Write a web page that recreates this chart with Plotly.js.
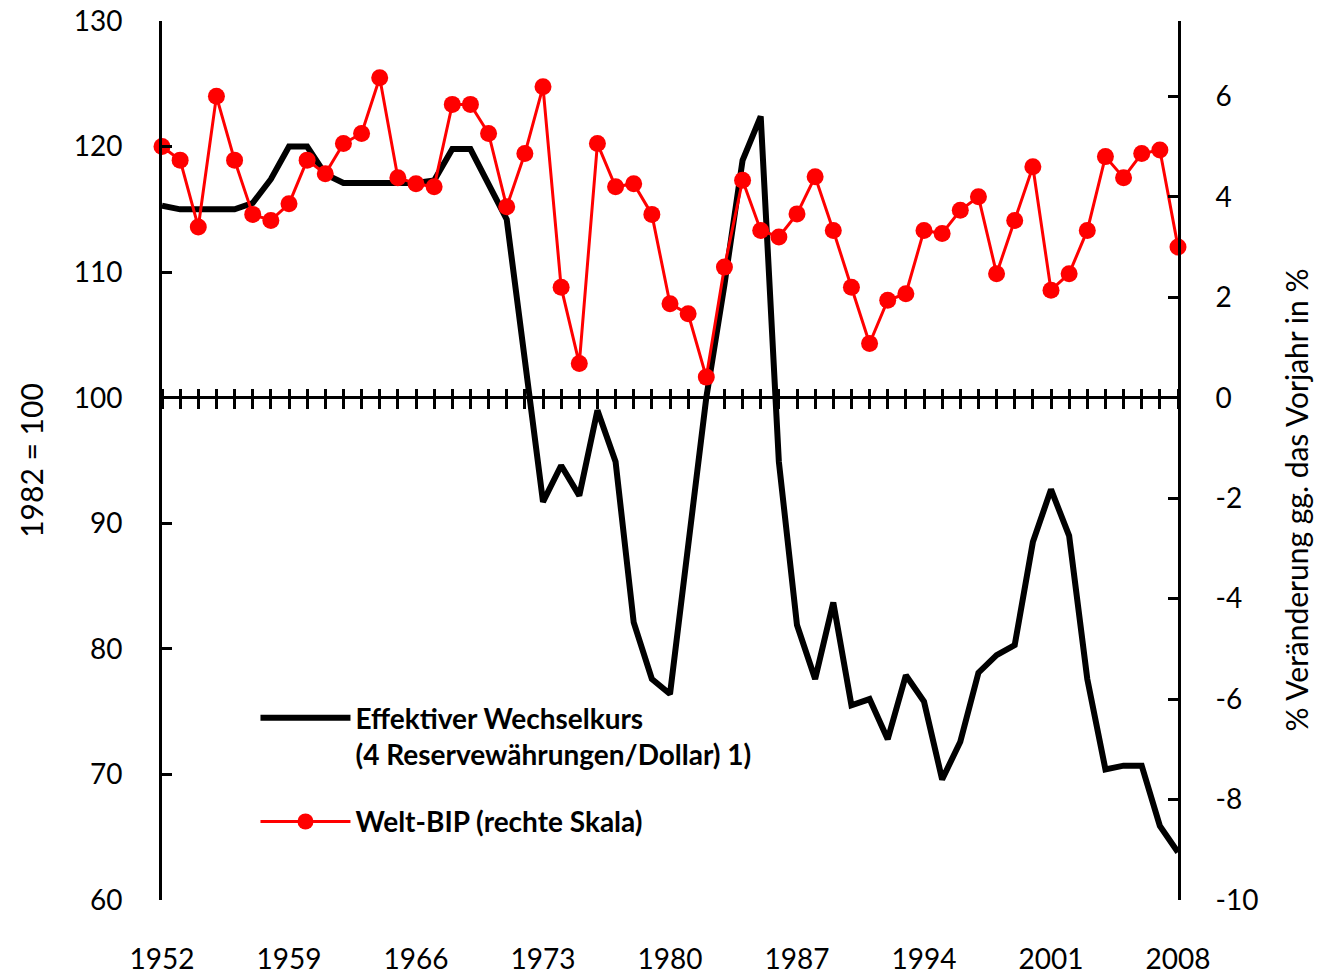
<!DOCTYPE html>
<html>
<head>
<meta charset="utf-8">
<script src="https://cdn.plot.ly/plotly-3.0.1.min.js"></script>
<style>html,body{margin:0;padding:0;background:#fff;}#chart{width:1320px;height:976px;}</style>
</head>
<body>
<div id="chart"></div>
<script>
// Years
const years = [1952,1953,1954,1955,1956,1957,1958,1959,1960,1961,1962,1963,1964,1965,1966,1967,1968,1969,1970,
  1971,1972,1973,1974,1975,1976,1977,1978,1979,1980,1981,1982,1983,1984,1985,1986,1987,1988,1989,1990,
  1991,1992,1993,1994,1995,1996,1997,1998,1999,2000,2001,2002,2003,2004,2005,2006,2007,2008];

// Effektiver Wechselkurs (1982 = 100), left scale
const wechselkurs = [115.3,115.0,115.0,115.0,115.0,115.5,117.4,120.0,120.0,117.8,117.1,117.1,117.1,117.1,117.1,117.3,119.8,119.8,117.1,
  114.2,103.0,91.7,94.6,92.2,99.0,94.9,82.1,77.6,76.4,88.4,100.0,109.0,118.9,122.4,94.9,81.9,77.6,83.7,75.5,
  76.0,72.8,77.9,75.8,69.6,72.6,78.1,79.5,80.3,88.5,92.7,89.0,77.6,70.4,70.7,70.7,65.9,63.8];

// Welt-BIP, % Veränderung gg. Vorjahr, right scale
const weltBIP = [5.0,4.73,3.4,6.0,4.73,3.65,3.53,3.86,4.73,4.46,5.06,5.26,6.37,4.38,4.26,4.2,5.84,5.84,5.26,
  3.8,4.86,6.19,2.2,0.68,5.06,4.2,4.26,3.65,1.87,1.67,0.41,2.6,4.33,3.33,3.2,3.66,4.4,3.33,2.2,
  1.08,1.94,2.07,3.33,3.27,3.73,4.0,2.47,3.53,4.6,2.14,2.47,3.33,4.8,4.38,4.86,4.93,3.0];

// Axis tick labels
const xTickVals = [1952,1959,1966,1973,1980,1987,1994,2001,2008];
const leftTicks = [60,70,80,90,100,110,120,130];
const rightTickVals = [-10,-8,-6,-4,-2,0,2,4,6];
const rightTickText = ['-10','-8','-6','-4','-2','0','2','4','6'];

const nameFX = 'Effektiver Wechselkurs<br>(4 Reservewährungen/Dollar) 1)';
const nameBIP = 'Welt-BIP (rechte Skala)';
const leftTitle = '1982 = 100';
const rightTitle = '% Veränderung gg. das Vorjahr in %';

const FONT = 'Lato, "Open Sans", sans-serif';

const traces = [
  {
    x: years, y: wechselkurs, name: nameFX, type: 'scatter', mode: 'lines',
    xaxis: 'x', yaxis: 'y',
    line: {color: '#000000', width: 6},
    legendgroup: 'a'
  },
  {
    x: years, y: weltBIP, name: nameBIP, type: 'scatter', mode: 'lines+markers',
    xaxis: 'x2', yaxis: 'y2',
    line: {color: '#ff0000', width: 3},
    marker: {color: '#ff0000', size: 17},
    cliponaxis: false,
    legendgroup: 'b'
  }
];

const layout = {
  width: 1320, height: 976,
  margin: {l: 162, r: 142, t: 21, b: 76},
  paper_bgcolor: '#ffffff', plot_bgcolor: 'rgba(0,0,0,0)',
  font: {family: FONT, size: 28, color: '#000000'},
  showlegend: true,
  legend: {
    x: 0.092, y: 0.2355, xanchor: 'left', yanchor: 'top',
    bgcolor: 'rgba(0,0,0,0)', borderwidth: 0,
    font: {family: FONT, size: 28, color: '#000000', weight: 'bold'},
    traceorder: 'grouped', tracegroupgap: 28, valign: 'top', itemwidth: 90
  },
  xaxis: {
    range: [1952, 2008], tickvals: xTickVals, ticks: '', showline: false,
    showgrid: false, zeroline: false, tickfont: {size: 28}, ticklabelstandoff: 40
  },
  xaxis2: {
    overlaying: 'x', anchor: 'free', position: 0.5825, side: 'bottom',
    range: [1952, 2008], tick0: 1952, dtick: 1, ticks: 'outside', ticklen: 20, tickwidth: 3, tickcolor: '#000',
    showline: false, showgrid: false, zeroline: false, showticklabels: false
  },
  yaxis: {
    range: [60, 130], tickvals: leftTicks, ticks: 'inside', ticklen: 10, tickwidth: 3, tickcolor: '#000',
    showline: true, linewidth: 3, linecolor: '#000', showgrid: false, zeroline: false,
    tickfont: {size: 28}, ticklabelstandoff: 31,
    title: {text: leftTitle, font: {size: 30}, standoff: 22}
  },
  yaxis2: {
    overlaying: 'y', side: 'right', anchor: 'x2',
    range: [-10, 7.5], tickvals: rightTickVals, ticktext: rightTickText,
    ticks: 'inside', ticklen: 10, tickwidth: 3, tickcolor: '#000',
    showline: true, linewidth: 3, linecolor: '#000', showgrid: false,
    zeroline: true, zerolinecolor: '#000', zerolinewidth: 3,
    tickfont: {size: 28}, ticklabelstandoff: 29
  },
  annotations: [
    {text: rightTitle, xref: 'paper', yref: 'paper', x: 1.1165, y: 0.455, textangle: -90,
     showarrow: false, font: {family: FONT, size: 30, color: '#000'}, xanchor: 'center', yanchor: 'middle'}
  ]
};

Plotly.newPlot('chart', traces, layout, {displayModeBar: false, staticPlot: true});
</script>
</body>
</html>
